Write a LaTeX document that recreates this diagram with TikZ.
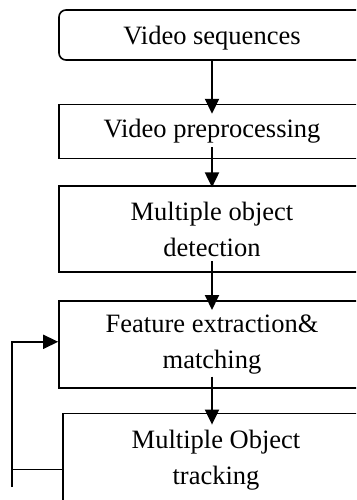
\documentclass[tikz,border=0pt]{standalone}
\usepackage{fontspec}
\setmainfont{Liberation Serif}
\usetikzlibrary{positioning,arrows.meta}

\begin{document}
\begin{tikzpicture}[stage/.style={draw, line width=1.6pt, minimum width=306pt, align=center, inner sep=2pt, font=\fontsize{26.5}{36}\selectfont},
		flow/.style={-{Triangle[length=15pt, width=14pt]}, line width=1.9pt}]
		\useasboundingbox (0,0) rectangle (356pt,-500pt);
		\clip (0,0) rectangle (356pt,-500pt);

		\node [stage, rounded corners=7pt, minimum height=50pt, text depth=0pt] (seq) at (212pt,-35pt) {Video sequences};
		\node [stage, minimum height=54pt, below=43pt of seq] (prep) {Video preprocessing};
		\node [stage, minimum height=86pt, below=26pt of prep] (det) {Multiple object\\detection};
		\node [stage, minimum height=87pt, below=27pt of det] (feat) {Feature extraction\&\\matching};
		\node [stage, minimum height=94pt, below=24pt of feat, xshift=4pt] (track) {Multiple Object\\tracking};

		\coordinate (t4) at (feat.south |- track.north);
		\coordinate (fb) at (12pt,-487pt);

		\draw[flow] (seq.south) -- ([yshift=-10pt]prep.north);
		\draw[flow] ([yshift=12pt]prep.south) -- ([yshift=-2pt]det.north);
		\draw[flow] ([yshift=12pt]det.south) -- ([yshift=-10pt]feat.north);
		\draw[flow] ([yshift=12pt]feat.south) -- ([yshift=-12pt]t4);

		% feedback from tracking
		\draw[line width=1.6pt] ([yshift=-9pt]track.west) -| (fb);
		\draw[flow, line width=1.6pt] (fb) |- ([yshift=2.5pt]feat.west);
	\end{tikzpicture}
\end{document}
